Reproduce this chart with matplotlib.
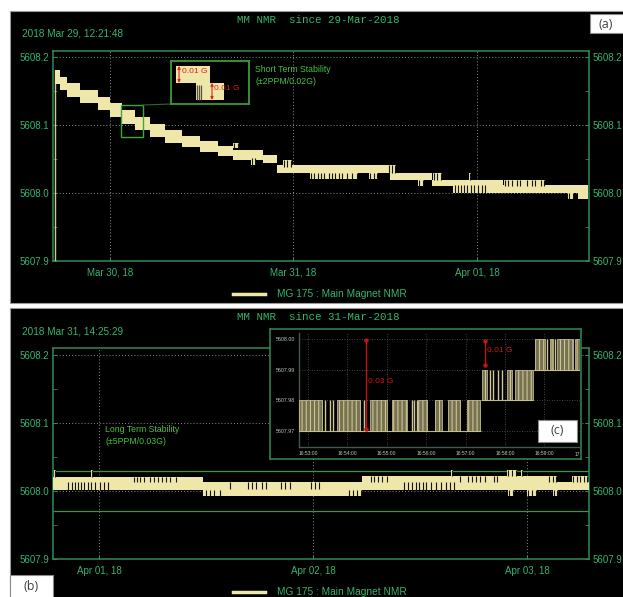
import matplotlib
matplotlib.use('Agg')
import matplotlib.pyplot as plt
from matplotlib.patches import Rectangle
from matplotlib.lines import Line2D
from matplotlib.ticker import MultipleLocator

plt.rcParams['font.family'] = ['Liberation Sans', 'DejaVu Sans']
plt.rcParams['hatch.linewidth'] = 0.7

# ---------------- data ----------------
# time axis: days since 29-Mar-2018 00:00
y_ticks = [5607.9, 5608.0, 5608.1, 5608.2]
y_ticklabels = ['5607.9', '5608.0', '5608.1', '5608.2']
a_xticks = [1, 2, 3]
a_xticklabels = ['Mar 30, 18', 'Mar 31, 18', 'Apr 01, 18']
b_xticks = [3, 4, 5]
b_xticklabels = ['Apr 01, 18', 'Apr 02, 18', 'Apr 03, 18']

# panel (a): stepped band (upper / lower quantised level)
a_t = [0.700, 0.728, 0.766, 0.837, 0.935, 1.000, 1.065, 1.136, 1.218, 1.300,
       1.392, 1.490, 1.589, 1.670, 1.834, 1.910, 2.526, 2.755, 2.869, 3.142,
       3.550, 3.605]
a_hi = [5608.181, 5608.171, 5608.162, 5608.151, 5608.141, 5608.132, 5608.122,
        5608.112, 5608.101, 5608.093, 5608.084, 5608.076, 5608.069, 5608.063,
        5608.056, 5608.041, 5608.029, 5608.019, 5608.019, 5608.012, 5608.012,
        5608.012]
a_lo = [5608.160, 5608.151, 5608.141, 5608.132, 5608.122, 5608.112, 5608.101,
        5608.093, 5608.083, 5608.074, 5608.067, 5608.061, 5608.054, 5608.049,
        5608.044, 5608.029, 5608.019, 5608.010, 5608.000, 5608.000, 5607.991,
        5607.991]
a_start_value = 5607.90
# panel (a): clusters of single-sample jumps (lo, hi, times)
a_cl_lo = [5608.066, 5608.041, 5608.038, 5608.020, 5608.020, 5608.029,
           5608.010, 5608.019, 5608.000, 5608.019, 5608.010, 5607.991]
a_cl_hi = [5608.074, 5608.051, 5608.049, 5608.029, 5608.029, 5608.041,
           5608.019, 5608.029, 5608.012, 5608.029, 5608.019, 5608.000]
a_cl_t = [[1.676, 1.698],
          [1.774, 1.790],
          [1.948, 1.965, 1.986],
          [2.095, 2.112, 2.134, 2.150, 2.166, 2.193, 2.210, 2.226, 2.248, 2.264,
           2.292, 2.319, 2.346],
          [2.417, 2.439, 2.455],
          [2.520, 2.537, 2.553],
          [2.684, 2.706],
          [2.766, 2.782, 2.804],
          [2.880, 2.896, 2.913, 2.929, 2.946, 2.967, 2.984, 3.005, 3.027, 3.044],
          [2.962],
          [3.153, 3.169, 3.191, 3.218, 3.234, 3.272, 3.300, 3.316, 3.349, 3.365],
          [3.501, 3.523]]

# panel (b)
b_t = [2.785, 3.486, 4.229, 5.098, 5.290]
b_hi = [5608.021, 5608.013, 5608.022, 5608.013, 5608.013]
b_lo = [5608.001, 5607.993, 5608.001, 5608.001, 5608.001]
b_limits = [5608.03, 5607.97]
b_cl_lo = [5608.021, 5608.021, 5608.001, 5608.013, 5607.993, 5608.003,
           5607.993, 5608.013, 5608.001, 5608.022, 5608.013, 5608.022,
           5607.993, 5608.022, 5607.993, 5608.013, 5607.993, 5608.013]
b_cl_hi = [5608.031, 5608.031, 5608.013, 5608.021, 5608.001, 5608.013,
           5608.001, 5608.022, 5608.013, 5608.031, 5608.022, 5608.031,
           5608.001, 5608.031, 5608.001, 5608.022, 5608.001, 5608.022]
b_cl_t = [[2.794], [2.967],
          [2.855, 2.874, 2.888, 2.902, 2.916, 2.930, 2.949, 2.963, 2.981, 3.005,
           3.023, 3.042],
          [3.164, 3.178, 3.192, 3.210, 3.238, 3.257, 3.276, 3.294, 3.313, 3.332,
           3.360],
          [3.500, 3.519, 3.537, 3.565],
          [3.612, 3.696, 3.715, 3.734, 3.762, 3.780, 3.850, 3.869, 3.893, 3.991,
           4.009, 4.028],
          [4.168, 4.187, 4.206, 4.224],
          [4.271, 4.285, 4.304, 4.322, 4.346],
          [4.425, 4.444, 4.463, 4.481, 4.495, 4.514, 4.528, 4.551, 4.575, 4.598,
           4.621, 4.640, 4.659],
          [4.650],
          [4.687, 4.724, 4.743, 4.762, 4.780, 4.804, 4.846, 4.860],
          [4.911, 4.930, 4.949],
          [4.916, 4.935],
          [4.977],
          [5.005, 5.023, 5.042],
          [5.103, 5.121, 5.136],
          [5.126, 5.140],
          [5.215, 5.234, 5.248, 5.266, 5.280]]

# inset (c): seconds after 16:53:00
c_xticks = [0, 60, 120, 180, 240, 300, 360]
c_xticklabels = ['16:53:00', '16:54:00', '16:55:00', '16:56:00', '16:57:00',
                 '16:58:00', '16:59:00']
c_yticks = [5607.97, 5607.98, 5607.99, 5608.00]
c_yticklabels = ['5607.97', '5607.98', '5607.99', '5608.00']
c_reg_start = [-13.7, 263.0, 343.2]
c_reg_end = [263.0, 343.2, 414.2]
c_low = [5607.97, 5607.98, 5607.99]
c_high = [5607.98, 5607.99, 5608.00]
c_burst_start = [-13.7, 43.7, 94.4, 127.5, 168.0, 193.4, 213.7, 241.7,
                 264.5, 302.5, 315.2,
                 345.7, 368.5, 378.7, 406.6]
c_burst_end = [20.8, 79.2, 119.8, 150.3, 180.8, 203.6, 231.5, 261.9,
               272.1, 310.2, 343.2,
               360.9, 373.6, 404.1, 414.2]
c_burst_reg = [0, 0, 0, 0, 0, 0, 0, 0, 1, 1, 1, 2, 2, 2, 2]
c_spike_t = [25.9, 33.0, 38.5, 86.0, 158.0, 161.5, 165.5,
             277.2, 282.2, 289.8, 295.5, 364.5, 376.0]
c_spike_reg = [0, 0, 0, 0, 0, 0, 0, 1, 1, 1, 1, 2, 2]
c_arrow1 = (88.0, 5607.9995, 5607.9705)
c_arrow2 = (269.5, 5607.9994, 5607.9916)

# mini zoom inset in (a): minutes, field
m_t = [0.64, 3.2, 5.0, 6.8]
m_hi = [5608.120, 5608.120, 5608.110, 5608.110]
m_lo = [5608.110, 5608.100, 5608.100, 5608.100]
m_gl_t = [3.35, 3.6, 3.85]

# ---------------- styling ----------------
W, H = 623, 597
GREEN = '#35b56d'
SPINE = '#2f8a57'
LIME = '#44c23a'
BAND = '#efe7aa'
GRID = '#8c8c8c'
DARK = '#141410'

fig = plt.figure(figsize=(W / 100, H / 100), dpi=100, facecolor='white')


def fr(x0, y0, x1, y1):
    return [x0 / W, 1 - y1 / H, (x1 - x0) / W, (y1 - y0) / H]


def ftext(x, y, s, **kw):
    kw.setdefault('color', GREEN)
    kw.setdefault('va', 'center')
    fig.text(x / W, 1 - y / H, s, **kw)


def frect(x0, y0, x1, y1, **kw):
    fig.add_artist(Rectangle((x0 / W, 1 - y1 / H), (x1 - x0) / W, (y1 - y0) / H,
                             transform=fig.transFigure, **kw))


def fline(xs, ys, **kw):
    fig.add_artist(Line2D([x / W for x in xs], [1 - y / H for y in ys],
                          transform=fig.transFigure, **kw))


# black panels
frect(10, 11, 626, 303, facecolor='black', edgecolor='#9a9a9a', lw=0.8, zorder=-5)
frect(10, 308, 626, 600, facecolor='black', edgecolor='#9a9a9a', lw=0.8, zorder=-5)


def style_main(ax, xlim, ylim, xt, xtl):
    ax.set_facecolor('none')
    ax.set_xlim(xlim)
    ax.set_ylim(ylim)
    for s in ax.spines.values():
        s.set_color(SPINE)
        s.set_linewidth(1.1)
    ax.set_yticks(y_ticks)
    ax.set_yticklabels(y_ticklabels)
    ax.yaxis.set_minor_locator(MultipleLocator(0.05))
    ax.set_xticks(xt)
    ax.set_xticklabels(xtl)
    ax.tick_params(axis='y', which='both', direction='in', left=True, right=True,
                   labelleft=True, labelright=True, colors=SPINE, labelcolor=GREEN,
                   labelsize=7, length=3, pad=2.5)
    ax.tick_params(axis='x', which='both', direction='in', colors=SPINE,
                   labelcolor=GREEN, labelsize=7, length=3, pad=5)
    ax.grid(True, which='major', color=GRID, ls=(0, (1, 2.2)), lw=0.7)
    ax.set_axisbelow(True)


def draw_clusters(ax, los, his, ts, d):
    for lo, hi, tt in zip(los, his, ts):
        ax.fill_between([min(tt) - d, max(tt) + d], lo, hi, color=BAND, lw=0, zorder=3)
        ax.vlines(tt, lo, hi, color=DARK, lw=0.8, zorder=4)


# ---- panel (a)
axa = fig.add_axes(fr(53, 51, 589, 261))
style_main(axa, (0.6894, 3.6104), (5607.9, 5608.2088), a_xticks, a_xticklabels)
axa.vlines([a_t[0]], a_start_value, a_hi[0], color='#c9cf8a', lw=1.0, zorder=3)
axa.fill_between(a_t, a_lo, a_hi, step='post', color=BAND, lw=0, zorder=3)
draw_clusters(axa, a_cl_lo, a_cl_hi, a_cl_t, 0.004)

ftext(237, 20, 'MM NMR  since 29-Mar-2018', family='Liberation Mono', size=7.8)
ftext(22, 34, '2018 Mar 29, 12:21:48', size=7.2)
ftext(255, 70, 'Short Term Stability', color=LIME, size=6.3)
ftext(255, 81, '(\u00b12PPM/0.02G)', color=LIME, size=6.3)
fline([233, 265], [294, 294], color=BAND, lw=2.5)
ftext(277, 294, 'MG 175 : Main Magnet NMR', size=7.3)

# small selection box + connector
frect(121, 105, 143, 137, facecolor='none', edgecolor='#3aaa3a', lw=1.0, zorder=2)
fline([143, 171], [105, 104], color='#2a6a2a', lw=0.8, zorder=2)

# mini zoom inset
axm = fig.add_axes(fr(171, 61, 249, 104), zorder=2)
axm.set_facecolor('black')
axm.set_xlim(0, 10)
axm.set_ylim(5608.0976, 5608.1229)
axm.set_xticks([])
axm.set_yticks([])
for s in axm.spines.values():
    s.set_color('#3a9a3a')
    s.set_linewidth(1.3)
axm.fill_between(m_t, m_lo, m_hi, step='post', color=BAND, lw=0)
axm.vlines(m_gl_t, m_lo[1], m_lo[1] + 0.009, color='#555040', lw=0.9)
for xa, y0, y1 in [(1.03, 5608.120, 5608.110), (5.26, 5608.110, 5608.100)]:
    axm.annotate('', xy=(xa, y0), xytext=(xa, y1),
                 arrowprops=dict(arrowstyle='<|-|>', color='#e02020', lw=0.8,
                                 mutation_scale=4, shrinkA=0, shrinkB=0))
axm.text(1.45, 5608.1166, '0.01 G', color='#e02020', size=6, va='center')
axm.text(5.55, 5608.1069, '0.01 G', color='#e02020', size=6, va='center')

# label (a)
frect(590, 14, 630, 33, facecolor='white', edgecolor='#8a8a8a', lw=0.8, zorder=4)
ftext(606, 24, '(a)', color='#404040', size=9, ha='center', family='Open Sans', zorder=5)

# ---- panel (b)
axb = fig.add_axes(fr(53, 348, 589, 559))
style_main(axb, (2.785, 5.2897), (5607.9, 5608.2103), b_xticks, b_xticklabels)
axb.hlines(b_limits, 2.785, 5.2897, color='#3a9a3a', lw=0.9, zorder=2)
axb.fill_between(b_t, b_lo, b_hi, step='post', color=BAND, lw=0, zorder=3)
draw_clusters(axb, b_cl_lo, b_cl_hi, b_cl_t, 0.004)

ftext(237, 317, 'MM NMR  since 31-Mar-2018', family='Liberation Mono', size=7.8)
ftext(22, 332, '2018 Mar 31, 14:25:29', size=7.2)
ftext(105, 429, 'Long Term Stability', color=LIME, size=6.3)
ftext(105, 441, '(\u00b15PPM/0.03G)', color=LIME, size=6.3)
fline([233, 265], [592, 592], color=BAND, lw=2.5)
ftext(277, 592, 'MG 175 : Main Magnet NMR', size=7.3)

frect(10, 575, 53, 600, facecolor='white', edgecolor='#8a8a8a', lw=0.8, zorder=4)
ftext(31, 587, '(b)', color='#404040', size=9, ha='center', family='Open Sans', zorder=5)

# ---- inset (c)
axo = fig.add_axes(fr(270, 329, 581, 459), zorder=1)
axo.set_facecolor('black')
axo.set_xticks([])
axo.set_yticks([])
for s in axo.spines.values():
    s.set_color(SPINE)
    s.set_linewidth(1.1)

axc = fig.add_axes(fr(299, 333, 580, 447), zorder=2)
axc.set_facecolor('black')
axc.set_xlim(-13.7, 414.2)
axc.set_ylim(5607.9648, 5608.0019)
axc.set_xticks(c_xticks)
axc.set_xticklabels(c_xticklabels)
axc.set_yticks(c_yticks)
axc.set_yticklabels(c_yticklabels)
axc.tick_params(length=0, labelsize=3.8, labelcolor='#b9cdb9', pad=3)
axc.tick_params(axis='x', labelsize=3.6, pad=3)
for k in ['top', 'right']:
    axc.spines[k].set_visible(False)
for k in ['left', 'bottom']:
    axc.spines[k].set_color('#44584c')
    axc.spines[k].set_linewidth(1.0)
axc.grid(True, color='#5a5a5a', ls=(0, (1, 2)), lw=0.6)
axc.set_axisbelow(True)

axc.hlines(c_low, c_reg_start, c_reg_end, color='#bfb88e', lw=0.8, zorder=3)
for s, e, r in zip(c_burst_start, c_burst_end, c_burst_reg):
    axc.fill_between([s, e], c_low[r], c_high[r], facecolor='#77724f',
                     edgecolor='#d8d0a0', hatch='||||', lw=0.5, zorder=3)
for t, r in zip(c_spike_t, c_spike_reg):
    axc.vlines(t, c_low[r], c_high[r], color='#cfc79a', lw=1.0, zorder=3)

for xa, y0, y1 in [c_arrow1, c_arrow2]:
    axc.plot([xa, xa], [y0, y1], color='#c01515', lw=1.0, marker='o', ms=2.2, zorder=5)
axc.text(91, 5607.986, '0.03 G', color='#d01818', size=6, va='center', zorder=5)
axc.text(272, 5607.9962, '0.01 G', color='#d01818', size=6, va='center', zorder=5)
axc.text(414.2, 5607.9625, '17', color='#b9cdb9', size=3.6, ha='right', va='center',
         clip_on=False)

frect(538, 420, 577, 442, facecolor='white', edgecolor='#8a8a8a', lw=0.8, zorder=4)
ftext(557.5, 431, '(c)', color='#404040', size=9, ha='center', family='Open Sans', zorder=5)

fig.savefig('out.png', dpi=100, facecolor='white')
